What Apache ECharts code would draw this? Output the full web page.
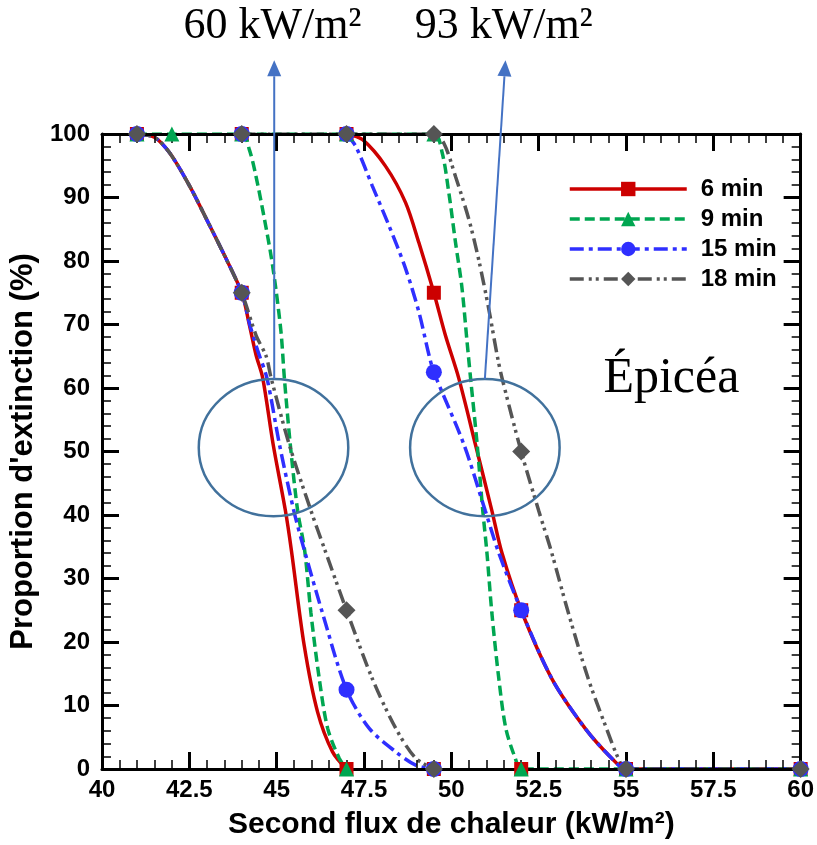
<!DOCTYPE html>
<html><head><meta charset="utf-8">
<script src="https://cdn.jsdelivr.net/npm/echarts@6/dist/echarts.min.js"></script>
<style>html,body{margin:0;padding:0;background:#fff}#c{width:817px;height:845px}</style>
</head><body><div id="c"></div>
<script>
// ---------- data ----------
const seriesNames = ['6 min', '9 min', '15 min', '18 min'];

// measured points (markers)
const points6  = [[41,100],[44,100],[44,75],[47,100],[47,0],[49.5,75],[49.5,0],[52,25],[52,0],[55,0],[60,0]];
const points9  = [[41,100],[42,100],[44,100],[47,100],[47,0],[49.5,100],[52,0],[55,0],[60,0]];
const points15 = [[41,100],[44,100],[44,75],[47,100],[47,12.5],[49.5,62.5],[49.5,0],[52,25],[55,0],[60,0]];
const points18 = [[41,100],[44,100],[44,75],[47,100],[47,25],[49.5,100],[49.5,0],[52,50],[55,0],[60,0]];

// fitted curves — 60 kW/m² group
const curve6a  = [[41,100],[41.5,99.5],[41.94,97],[42.51,91.8],[42.99,86.6],[43.46,81.4],[44,75],[44.22,69.9],[44.41,65.2],[44.6,61.6],[44.9,51.1],[45.25,40.7],[45.42,34.5],[45.79,19.4],[46.17,9],[46.6,2.7],[47,0]];
const curve9a  = [[41,100],[42,100],[44,100],[44.22,97.5],[44.41,93.3],[44.65,86.6],[44.84,80.8],[44.98,75.5],[45.13,68.5],[45.22,61.6],[45.39,51.1],[45.6,40.7],[45.8,34.5],[45.98,24.6],[46.22,14.2],[46.46,6.4],[46.79,1.7],[47,0]];
const curve15a = [[41,100],[41.5,99.5],[41.94,97],[42.51,91.8],[42.99,86.6],[43.46,81.4],[44,75],[44.22,70.2],[44.45,66],[44.72,61.6],[45.08,51.1],[45.49,40.7],[45.79,34.5],[46.31,24.6],[47,12.5],[47.65,6.4],[48.41,2.7],[48.98,0.6],[49.5,0]];
const curve18a = [[41,100],[41.5,99.5],[41.94,97],[42.51,91.8],[42.99,86.6],[43.46,81.4],[44,75],[44.41,68.3],[44.7,65],[44.84,61.6],[45.36,51.1],[45.98,40.7],[46.38,34.5],[47,25],[47.74,14.2],[48.41,6.4],[48.98,1.7],[49.5,0]];
// fitted curves — 93 kW/m² group
const curve6b  = [[47,100],[47.46,99.1],[48.12,94.9],[48.69,89.2],[49.07,82.9],[49.5,75],[49.83,68.3],[50.21,61.6],[50.69,51.1],[51.16,40.7],[51.45,34],[52,25],[52.88,14.2],[53.83,6.4],[54.59,1.7],[55,0],[60,0]];
const curve9b  = [[44,100],[47,100],[49.5,100],[49.74,97],[49.93,90.7],[50.12,82.9],[50.3,76],[50.45,67.3],[50.55,61.6],[50.74,51.1],[50.9,40.7],[51.02,34],[51.16,24.6],[51.36,14.2],[51.56,6.4],[51.83,1.7],[52,0],[60,0]];
const curve15b = [[47,100],[47.27,98],[47.74,91.8],[48.22,85.5],[48.69,78.8],[49.07,72],[49.36,65.2],[49.5,62.5],[50.36,51.1],[50.97,40.7],[51.36,34],[52,25],[52.88,14.2],[53.83,6.4],[54.59,1.7],[55,0],[60,0]];
const curve18b = [[44,100],[47,100],[49.5,100],[49.79,98.5],[50.12,93.3],[50.5,86.6],[50.78,80.3],[51.07,72.5],[51.31,65.2],[51.45,61.6],[52,50],[52.5,40.7],[52.85,34.5],[53.35,24.6],[53.92,14.2],[54.44,6.4],[54.78,1.7],[55,0],[60,0]];

// axis ranges / ticks
const xMin = 40, xMax = 60, xStep = 2.5;
const yMin = 0, yMax = 100, yStep = 10;

// annotation texts
const annoText1 = '60 kW/m²';
const annoText2 = '93 kW/m²';
const speciesText = 'Épicéa';
const xTitle = 'Second flux de chaleur (kW/m²)';
const yTitle = "Proportion d'extinction (%)";

// ---------- styles ----------
const colors = ['#cc0000', '#00a651', '#2f2fff', '#555555'];
const symbols = ['rect', 'triangle', 'circle', 'diamond'];
const symSizes = [14, 15, 16, 18];
const dashes = ['solid', [10, 5], [14, 5, 4, 5], [14, 5, 3, 4, 3, 5]];
const pointSets = [points6, points9, points15, points18];
const curveA = [curve6a, curve9a, curve15a, curve18a];
const curveB = [curve6b, curve9b, curve15b, curve18b];

const chart = echarts.init(document.getElementById('c'), null, {renderer: 'canvas'});

const sans = 'Liberation Sans, Arial, sans-serif';
const tickFont = {fontFamily: sans, fontWeight: 'bold', fontSize: 24, color: '#000'};

function mkAxis(kind, pos, labels) {
  const isX = kind === 'x';
  return {
    type: 'value', position: pos,
    min: isX ? xMin : yMin, max: isX ? xMax : yMax, interval: isX ? xStep : yStep,
    z: 3,
    axisLine: {show: true, onZero: false, lineStyle: {color: '#000', width: 3}},
    axisTick: {show: true, inside: true, length: 17, lineStyle: {color: '#000', width: 3}},
    minorTick: {show: true, splitNumber: 5, length: 9, lineStyle: {color: '#000', width: 1.5}},
    splitLine: {show: false}, minorSplitLine: {show: false},
    axisLabel: labels ? Object.assign({show: true, margin: isX ? 9 : 12}, tickFont) : {show: false},
    name: labels ? (isX ? xTitle : yTitle) : '',
    nameLocation: 'middle',
    nameGap: isX ? 41 : 58,
    nameTextStyle: {fontFamily: sans, fontWeight: 'bold', fontSize: isX ? 30 : 31, color: '#000'}
  };
}

const series = [];
for (let i = 0; i < 4; i++) {
  const lineBase = {
    type: 'line', name: seriesNames[i], smooth: 0.3,
    symbol: symbols[i], symbolSize: symSizes[i], showSymbol: false,
    lineStyle: {color: colors[i], width: 3.5, type: dashes[i]},
    itemStyle: {color: colors[i]},
    emphasis: {disabled: true}, z: 2, silent: true
  };
  series.push(Object.assign({}, lineBase, {data: curveA[i]}));
  series.push(Object.assign({}, lineBase, {data: curveB[i]}));
}
for (let i = 0; i < 4; i++) {
  series.push({
    type: 'scatter', name: seriesNames[i], data: pointSets[i],
    symbol: symbols[i], symbolSize: symSizes[i],
    itemStyle: {color: colors[i], opacity: 1},
    emphasis: {disabled: true}, z: 5 + i, clip: false, silent: true
  });
}

const option = {
  animation: false,
  backgroundColor: '#fff',
  grid: {left: 102, right: 13, top: 134, bottom: 71, containLabel: false},
  xAxis: [mkAxis('x', 'bottom', true), mkAxis('x', 'top', false)],
  yAxis: [mkAxis('y', 'left', true), mkAxis('y', 'right', false)],
  legend: {
    data: seriesNames, orient: 'vertical', left: 568, top: 177, padding: 0,
    itemWidth: 117, itemHeight: 18, itemGap: 6,
    lineStyle: {width: 3.5},
    textStyle: {fontFamily: sans, fontWeight: 'bold', fontSize: 24, color: '#000', padding: [0, 0, 0, 9]},
    selectedMode: false
  },
  series: series
};
chart.setOption(option);

// ---------- annotations (positioned in data space) ----------
const p = (x, y) => chart.convertToPixel({gridIndex: 0}, [x, y]);
const ell = [{c: [44.91, 50.6], rx: 2.14, ry: 10.8}, {c: [50.96, 50.6], rx: 2.14, ry: 10.8}];
const arrows = [{from: [44.93, 61.4], to: [44.93, 111.6]}, {from: [50.96, 61.4], to: [51.55, 111.6]}];
const graphics = [];
ell.forEach(e => {
  const c = p(e.c[0], e.c[1]);
  const r = p(e.c[0] + e.rx, e.c[1] + e.ry);
  graphics.push({type: 'ellipse', z: 50, shape: {cx: c[0], cy: c[1], rx: r[0] - c[0], ry: c[1] - r[1]},
    style: {fill: 'none', stroke: '#41719c', lineWidth: 2.5}});
});
arrows.forEach(a => {
  const f = p(a.from[0], a.from[1]), t = p(a.to[0], a.to[1]);
  const dx = t[0] - f[0], dy = t[1] - f[1], L = Math.hypot(dx, dy);
  const ux = dx / L, uy = dy / L, head = 16, hw = 7;
  const bx = t[0] - ux * head, by = t[1] - uy * head;
  graphics.push({type: 'line', z: 50, shape: {x1: f[0], y1: f[1], x2: bx, y2: by}, style: {stroke: '#4472c4', lineWidth: 2}});
  graphics.push({type: 'polygon', z: 50, shape: {points: [[t[0], t[1]], [bx - uy * hw, by + ux * hw], [bx + uy * hw, by - ux * hw]]}, style: {fill: '#4472c4'}});
});
const t1 = p(44.88, 117), t2 = p(51.5, 117), t3 = p(56.3, 61.5);
const serif = 'Liberation Serif, Times New Roman, serif';
graphics.push({type: 'text', z: 50, x: t1[0], y: t1[1], style: {text: annoText1, font: '44px ' + serif, fill: '#000', textAlign: 'center', textVerticalAlign: 'middle'}});
graphics.push({type: 'text', z: 50, x: t2[0], y: t2[1], style: {text: annoText2, font: '44px ' + serif, fill: '#000', textAlign: 'center', textVerticalAlign: 'middle'}});
graphics.push({type: 'text', z: 50, x: t3[0], y: t3[1], style: {text: speciesText, font: '50px ' + serif, fill: '#000', textAlign: 'center', textVerticalAlign: 'middle'}});
chart.setOption({graphic: graphics});
</script>
</body></html>
